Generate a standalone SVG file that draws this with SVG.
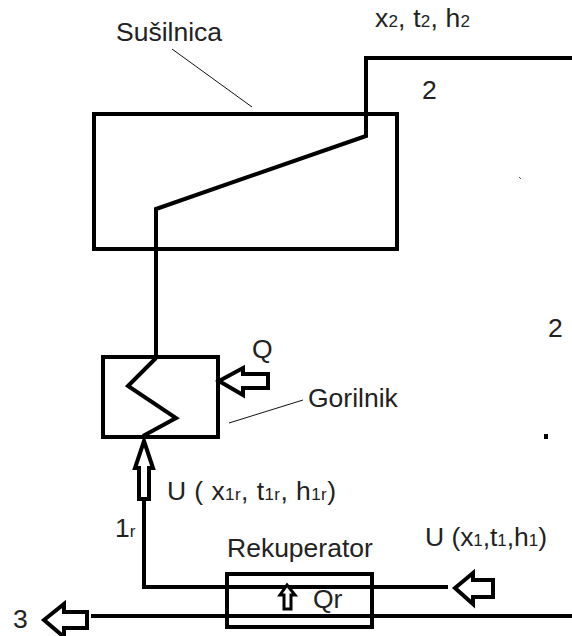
<svg xmlns="http://www.w3.org/2000/svg" width="572" height="636" viewBox="0 0 572 636">
<style>
text{font-family:"Liberation Sans",Arial,sans-serif;fill:#222;font-size:26.5px}
.sub{font-size:17px}
.box{fill:none;stroke:#000;stroke-width:4}
.pipe{fill:none;stroke:#000;stroke-width:4}
.arrow{fill:#fff;stroke:#000;stroke-width:4}
.lead{fill:none;stroke:#111;stroke-width:1}
</style>
<rect width="572" height="636" fill="#fff"/>
<g id="susilnica"><rect class="box" x="94" y="114" width="303" height="135"/><text x="116" y="41">Sušilnica</text></g>
<g id="gorilnik"><rect class="box" x="103" y="357" width="115" height="80"/><text x="308" y="407">Gorilnik</text></g>
<g id="rekuperator"><rect class="box" x="227" y="574" width="145" height="53"/><text x="227" y="557">Rekuperator</text></g>
<g id="connectors">
<path class="pipe" d="M156 358V209L366 136V58H572"/>
<path class="pipe" d="M156 358L128 386L176 418L143 436"/>
<path class="pipe" d="M144 499V587H448"/>
<path class="pipe" d="M91 616H572"/>
<path class="arrow" d="M144 441L153 468H149V499H139V468H135Z"/>
<path class="arrow" d="M219 381L243 368V374H268V388H243V395Z"/>
<path class="arrow" d="M455 588L473 573V580H493V597H473V604Z"/>
<path class="arrow" d="M44 620L64 604V612H87V628H64V637Z"/>
<path class="arrow" style="stroke-width:3" d="M287 585L295 595H291V609H284V595H280Z"/>
<path class="lead" d="M172 49L252 107"/>
<path class="lead" d="M229 423L303 400"/>
</g>
<g id="labels">
<text x="375" y="27" textLength="95">x<tspan class="sub">2</tspan>, t<tspan class="sub">2</tspan>, h<tspan class="sub">2</tspan></text>
<text x="422" y="99">2</text>
<text x="548" y="337">2</text>
<text x="252" y="358">Q</text>
<text x="167" y="500" textLength="169">U ( x<tspan class="sub">1r</tspan>, t<tspan class="sub">1r</tspan>, h<tspan class="sub">1r</tspan>)</text>
<text x="115" y="537">1<tspan class="sub">r</tspan></text>
<text x="425" y="546" textLength="122">U (x<tspan class="sub">1</tspan>,t<tspan class="sub">1</tspan>,h<tspan class="sub">1</tspan>)</text>
<text x="313" y="608">Qr</text>
<text x="13" y="628">3</text>
</g>
<rect x="544" y="434" width="4" height="5" fill="#000"/>
<path d="M519 177L521 179" stroke="#555" stroke-width="1"/>
</svg>
